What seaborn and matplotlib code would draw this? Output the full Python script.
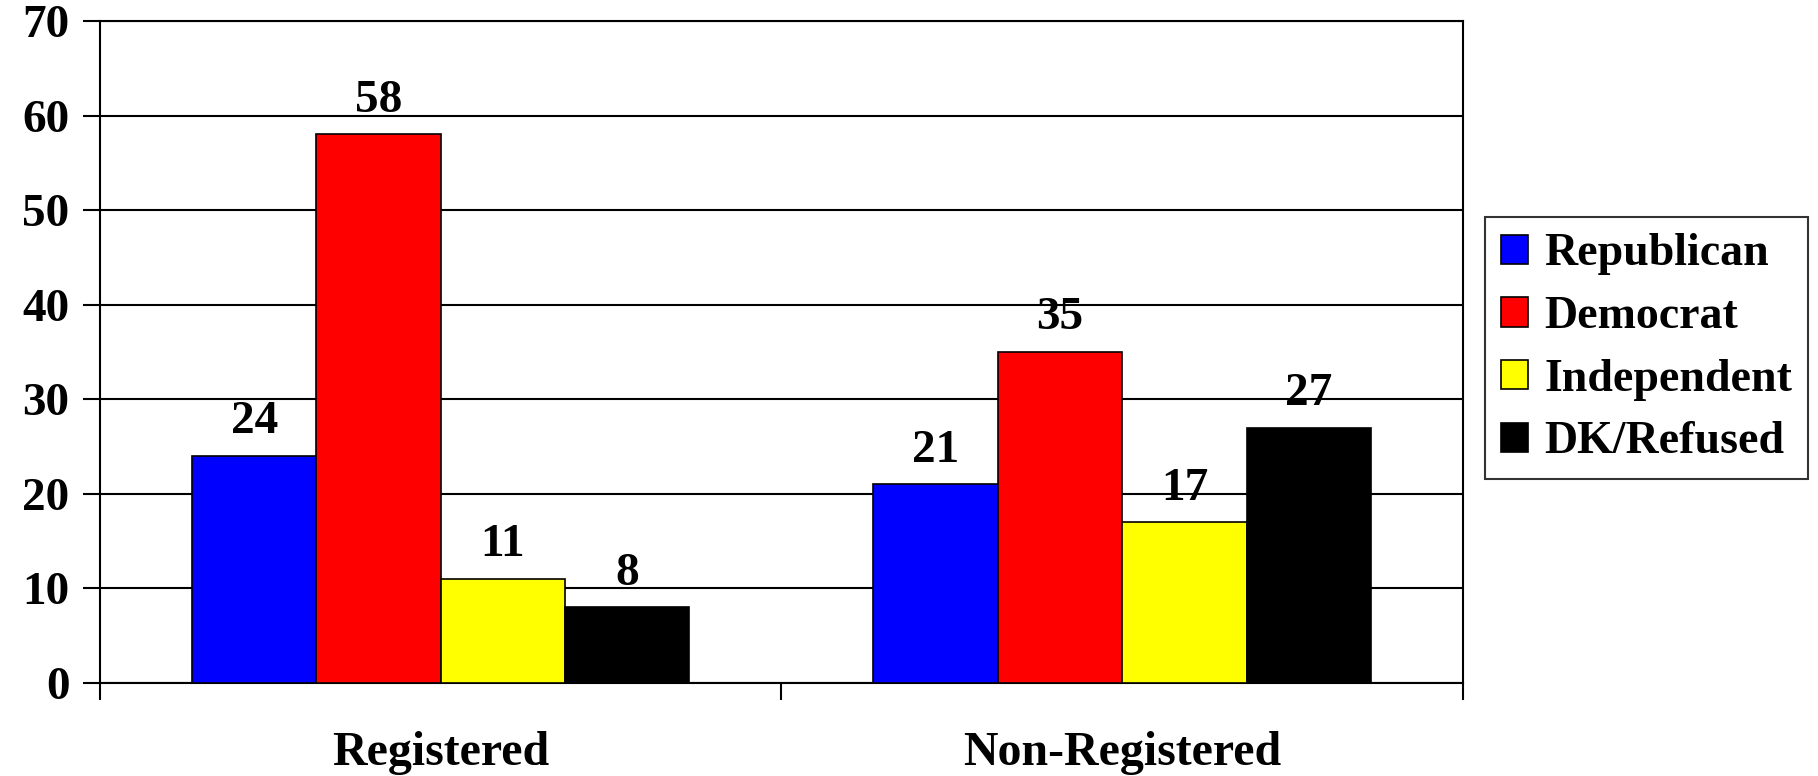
import pandas as pd
import matplotlib
matplotlib.use("Agg")
import matplotlib.pyplot as plt
import seaborn as sns

# data
groups = ["Registered", "Non-Registered"]
parties = ["Republican", "Democrat", "Independent", "DK/Refused"]
registered = [24, 58, 11, 8]
non_registered = [21, 35, 17, 27]
colors = ["#0000FF", "#FF0000", "#FFFF00", "#000000"]

df = pd.DataFrame({
    "Group": [groups[0]] * 4 + [groups[1]] * 4,
    "Party": parties * 2,
    "Value": registered + non_registered,
})

sns.set_theme(style="white")
plt.rcParams["font.family"] = ["Liberation Serif", "DejaVu Serif"]
plt.rcParams["font.weight"] = "bold"
plt.rcParams["text.color"] = "black"
plt.rcParams["xtick.color"] = "black"
plt.rcParams["ytick.color"] = "black"

fig = plt.figure(figsize=(18.18, 7.76), dpi=100)
ax = fig.add_axes([0.055, 0.12, 0.7497, 0.853])

sns.barplot(data=df, x="Group", y="Value", hue="Party", order=groups,
            hue_order=parties, palette=colors, width=0.73, saturation=1,
            edgecolor="black", linewidth=1.2, ax=ax, zorder=3)

#value labels above bars
for container in ax.containers:
    ax.bar_label(container, fmt="%d", padding=9, fontsize=34,
                 fontweight="bold", color="black")

ax.set_ylim(0, 70)
ax.set_xlim(-0.5, 1.5)
ax.set_yticks(range(0, 71, 10))
ax.yaxis.grid(True, color="black", linewidth=1.5, zorder=0)
ax.set_axisbelow(True)
ax.set_xlabel("")
ax.set_ylabel("")

for s in ax.spines.values():
    s.set_color("black")
    s.set_linewidth(1.5)

ax.tick_params(axis="y", which="major", length=12, width=1.5, color="black",
               direction="out", left=True, labelsize=34, pad=10)
ax.tick_params(axis="x", which="major", length=0, labelsize=34.5, pad=35)
ax.set_xticks([-0.5, 0.5, 1.5], minor=True)
ax.tick_params(axis="x", which="minor", length=12, width=1.5, color="black",
               direction="out", bottom=True)
for lab in ax.get_xticklabels() + ax.get_yticklabels():
    lab.set_fontweight("bold")
    lab.set_color("black")

ax.legend(loc="center left", bbox_to_anchor=(0.8168, 0.551),
          bbox_transform=fig.transFigure, frameon=True, fancybox=False,
          edgecolor="black", handlelength=0.6, handleheight=0.6,
          handletextpad=0.35, labelspacing=0.45, borderpad=0.35,
          borderaxespad=0, prop={"weight": "bold", "size": 33}, title=None)
ax.get_legend().get_frame().set_linewidth(1.5)
for t in ax.get_legend().get_texts():
    t.set_color("black")

fig.savefig("out.png", dpi=100, facecolor="white")
